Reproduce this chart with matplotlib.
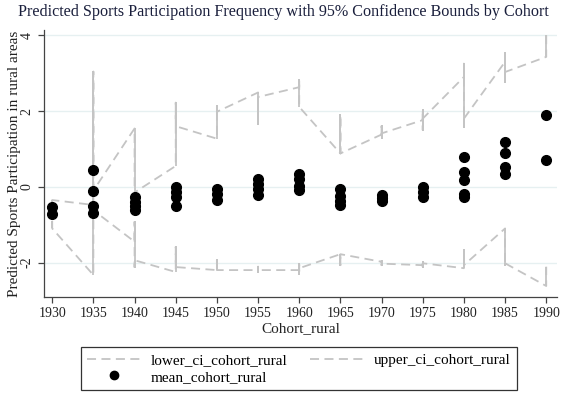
import matplotlib
matplotlib.use("Agg")
import matplotlib.pyplot as plt
from matplotlib.lines import Line2D

plt.rcParams['font.family'] = ['Liberation Serif', 'DejaVu Serif']
plt.rcParams['axes.unicode_minus'] = False

cohorts = [1930, 1935, 1940, 1945, 1950, 1955, 1960, 1965, 1970, 1975, 1980, 1985, 1990]

mean_vals = [
    [-0.53, -0.73],
    [0.44, -0.11, -0.50, -0.70],
    [-0.26, -0.40, -0.52, -0.62],
    [0.00, -0.13, -0.26, -0.50],
    [-0.05, -0.20, -0.35],
    [0.20, 0.07, -0.07, -0.22],
    [0.33, 0.20, 0.02, -0.08],
    [-0.07, -0.24, -0.37, -0.48],
    [-0.22, -0.30, -0.38],
    [0.00, -0.13, -0.26],
    [0.79, 0.40, 0.19, -0.18, -0.26],
    [1.18, 0.88, 0.53, 0.34],
    [1.89, 0.70],
]

upper_vals = [
    [-0.40, -0.35],
    [-0.48, 3.04, -0.10],
    [1.54, -0.40, -0.15],
    [0.55, 2.22, 1.60],
    [1.27, 2.13, 1.98],
    [2.49, 1.67, 2.37],
    [2.63, 2.82, 2.11],
    [0.88, 1.89, 0.88],
    [1.38, 1.60, 1.30, 1.41],
    [1.76, 2.03, 1.50, 1.80],
    [2.90, 3.25, 1.58, 1.80],
    [3.30, 3.52, 2.77, 3.03],
    [3.43, 4.00],
]

lower_vals = [
    [-0.90, -1.10],
    [-2.33, -0.62],
    [-1.45, -0.93, -2.12, -1.94],
    [-2.25, -1.59, -2.12],
    [-2.20, -1.94, -2.20],
    [-2.20, -2.11, -2.25, -2.20],
    [-2.20, -2.30, -2.05, -2.15],
    [-1.78, -2.07, -1.78],
    [-1.98, -1.96, -2.07, -2.03],
    [-2.07, -1.98, -2.11, -2.02],
    [-2.15, -1.67, -2.07],
    [-1.10, -2.07, -2.02],
    [-2.62, -2.11],
]

xticks = list(range(1930, 1995, 5))
yticks = [-2, 0, 2, 4]

ci_color = '#c4c4c4'
dash = (5, 3)


def flatten(vals):
    xs, ys = [], []
    for c, v in zip(cohorts, vals):
        xs += [c] * len(v)
        ys += v
    return xs, ys


fig = plt.figure(figsize=(5.66, 4.01), dpi=100)
ax = fig.add_axes([0.0777, 0.2594, 0.9063, 0.6658])

for yt in yticks:
    ax.axhline(yt, color='#e6f0f1', lw=1.0, zorder=0)

# dashed CI lines through every observation, in data order
for vals in (lower_vals, upper_vals):
    xs, ys = flatten(vals)
    ax.plot(xs, ys, color=ci_color, lw=1.3, dashes=dash, zorder=1)
    # overlapping passes at one cohort look solid in the original
    for c, v in zip(cohorts, vals):
        ax.plot([c] * len(v), v, color=ci_color, lw=1.3, solid_capstyle='butt', zorder=1)

mx, my = flatten(mean_vals)
ax.plot(mx, my, 'o', color='black', markersize=7, zorder=3)

ax.set_xlim(1929.0, 1991.3)
ax.set_ylim(-2.91, 4.14)
ax.set_xticks(xticks)
ax.set_yticks(yticks)
ax.tick_params(axis='both', direction='out', length=4.5, width=0.9, color='#444444',
               labelsize=10, labelcolor='#222222', pad=3)
for lab in ax.get_yticklabels():
    lab.set_rotation(90)
    lab.set_va('center')

for s in ('top', 'right'):
    ax.spines[s].set_visible(False)
for s in ('left', 'bottom'):
    ax.spines[s].set_color('#444444')
    ax.spines[s].set_linewidth(0.9)

ax.set_xlabel('Cohort_rural', fontsize=11, color='#222222', labelpad=1)
ax.set_ylabel('Predicted Sports Participation in rural areas', fontsize=11,
              color='#222222', labelpad=0)

fig.text(0.5, 0.97, 'Predicted Sports Participation Frequency with 95% Confidence Bounds by Cohort',
         ha='center', va='center', fontsize=11.6, color='#1a1f3c')

h_low = Line2D([], [], color=ci_color, lw=1.3, dashes=dash)
h_up = Line2D([], [], color=ci_color, lw=1.3, dashes=dash)
h_mean = Line2D([], [], marker='o', color='black', ls='none', markersize=6)
leg = fig.legend([h_low, h_mean, h_up],
                 ['lower_ci_cohort_rural', 'mean_cohort_rural', 'upper_ci_cohort_rural'],
                 ncol=2, loc='center', bbox_to_anchor=(0.528, 0.081), fontsize=11,
                 frameon=True, fancybox=False, edgecolor='#333333', framealpha=1,
                 handlelength=3.5, handletextpad=0.7, columnspacing=1.45,
                 labelspacing=0.2, borderpad=0.4)
leg.get_frame().set_linewidth(0.9)

fig.savefig('out.png', dpi=100)
